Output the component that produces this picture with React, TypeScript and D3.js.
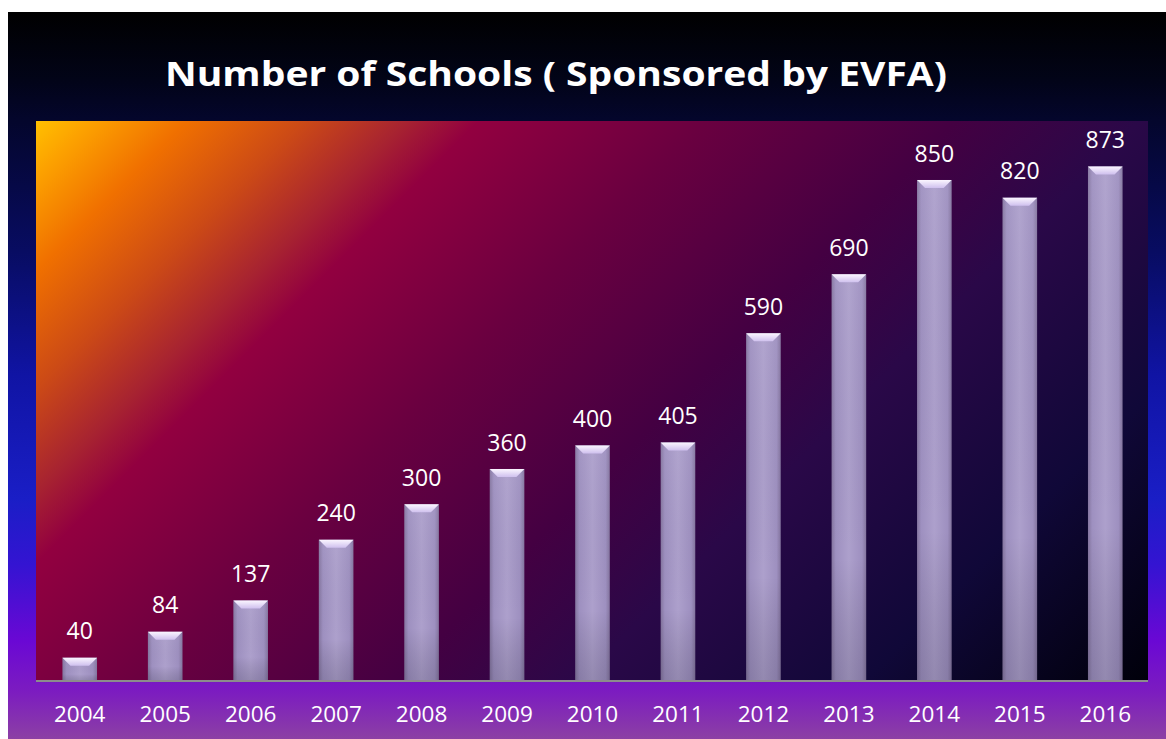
import React from "react";
import * as d3 from "d3";

const years = ["2004", "2005", "2006", "2007", "2008", "2009", "2010", "2011", "2012", "2013", "2014", "2015", "2016"];
const schools = [40, 84, 137, 240, 300, 360, 400, 405, 590, 690, 850, 820, 873];
const yMax = 950;
const title = "Number of Schools ( Sponsored by EVFA)";

const W = 1166;
const H = 739;
const plot = { left: 36, right: 1148, top: 121, bottom: 681.3 };

export default function App() {
  const x = d3.scaleBand<string>().domain(years).range([37, 1148]).paddingInner(0.595).paddingOuter(0.2975);
  const y = d3.scaleLinear().domain([0, yMax]).range([plot.bottom, plot.top]);
  const bw = x.bandwidth();
  const bev = 8;
  const font = "'Open Sans', 'Liberation Sans', sans-serif";

  const slideStops: [number, string][] = [
    [0, "#000000"],
    [0.094, "#020418"],
    [0.149, "#04062c"],
    [0.33, "#080c62"],
    [0.5, "#1014a4"],
    [0.67, "#1a1ec6"],
    [0.76, "#3414d2"],
    [0.865, "#6a08d4"],
    [0.935, "#7c1cc0"],
    [1, "#8c40a4"],
  ];
  const plotStops: [number, string][] = [
    [0, "#ffc000"],
    [0.035, "#fca000"],
    [0.09, "#f07000"],
    [0.16, "#cc4a16"],
    [0.22, "#a82430"],
    [0.265, "#920040"],
    [0.4, "#6a0040"],
    [0.55, "#440042"],
    [0.66, "#2a0848"],
    [0.83, "#100838"],
    [1, "#00000a"],
  ];

  return (
    <svg width={W} height={H} style={{ position: "absolute", left: 0, top: 0 }}>
      <defs>
        <linearGradient id="slideBg" x1="0" y1="12" x2="0" y2="739" gradientUnits="userSpaceOnUse">
          {slideStops.map(([o, c], i) => (
            <stop key={i} offset={o} stopColor={c} />
          ))}
        </linearGradient>
        <linearGradient
          id="plotBg"
          x1={plot.left}
          y1={plot.top}
          x2={plot.left + 836}
          y2={plot.top + 836}
          gradientUnits="userSpaceOnUse"
        >
          {plotStops.map(([o, c], i) => (
            <stop key={i} offset={o} stopColor={c} />
          ))}
        </linearGradient>
        <linearGradient id="barBody" x1="0" y1="0" x2="1" y2="0">
          <stop offset="0" stopColor="#84759f" />
          <stop offset="0.12" stopColor="#9e90c0" />
          <stop offset="0.5" stopColor="#ada0cc" />
          <stop offset="0.88" stopColor="#9e90c0" />
          <stop offset="1" stopColor="#84759f" />
        </linearGradient>
        <linearGradient id="barShade" x1="0" y1="0" x2="0" y2="1">
          <stop offset="0" stopColor="#ffffff" stopOpacity="0.05" />
          <stop offset="0.7" stopColor="#000000" stopOpacity="0.0" />
          <stop offset="1" stopColor="#202030" stopOpacity="0.18" />
        </linearGradient>
        <linearGradient id="bevelTop" x1="0" y1="0" x2="0" y2="1">
          <stop offset="0" stopColor="#fbf6ff" />
          <stop offset="1" stopColor="#cfc0ee" />
        </linearGradient>
      </defs>

      <rect x={0} y={0} width={W} height={H} fill="#ffffff" />
      <rect x={8} y={12} width={W - 8} height={H - 12} fill="url(#slideBg)" />

      <text
        x={165}
        y={86}
        fill="#ffffff"
        fontFamily={font}
        fontWeight="bold"
        fontSize={34}
        textLength={782}
        lengthAdjust="spacingAndGlyphs"
      >
        {title}
      </text>

      <rect
        x={plot.left}
        y={plot.top}
        width={plot.right - plot.left}
        height={plot.bottom - plot.top}
        fill="url(#plotBg)"
      />

      {years.map((yr, i) => {
        const v = schools[i];
        const bx = x(yr)!;
        const by = y(v);
        const bh = plot.bottom - by;
        return (
          <g key={yr}>
            <rect x={bx} y={by} width={bw} height={bh} fill="url(#barBody)" />
            <rect x={bx} y={by} width={bw} height={bh} fill="url(#barShade)" />
            <polygon
              points={`${bx},${by} ${bx + bw},${by} ${bx + bw - bev},${by + bev} ${bx + bev},${by + bev}`}
              fill="url(#bevelTop)"
            />
            <text
              x={bx + bw / 2}
              y={by - 18.4}
              fill="#ffffff"
              fontFamily={font}
              fontSize={23}
              textAnchor="middle"
            >
              {v}
            </text>
            <text
              x={bx + bw / 2}
              y={721.7}
              fill="#ffffff"
              fontFamily={font}
              fontSize={22.5}
              textAnchor="middle"
            >
              {yr}
            </text>
          </g>
        );
      })}

      <line x1={plot.left} x2={plot.right} y1={681} y2={681} stroke="#8c8c8c" strokeWidth={2} />
    </svg>
  );
}
